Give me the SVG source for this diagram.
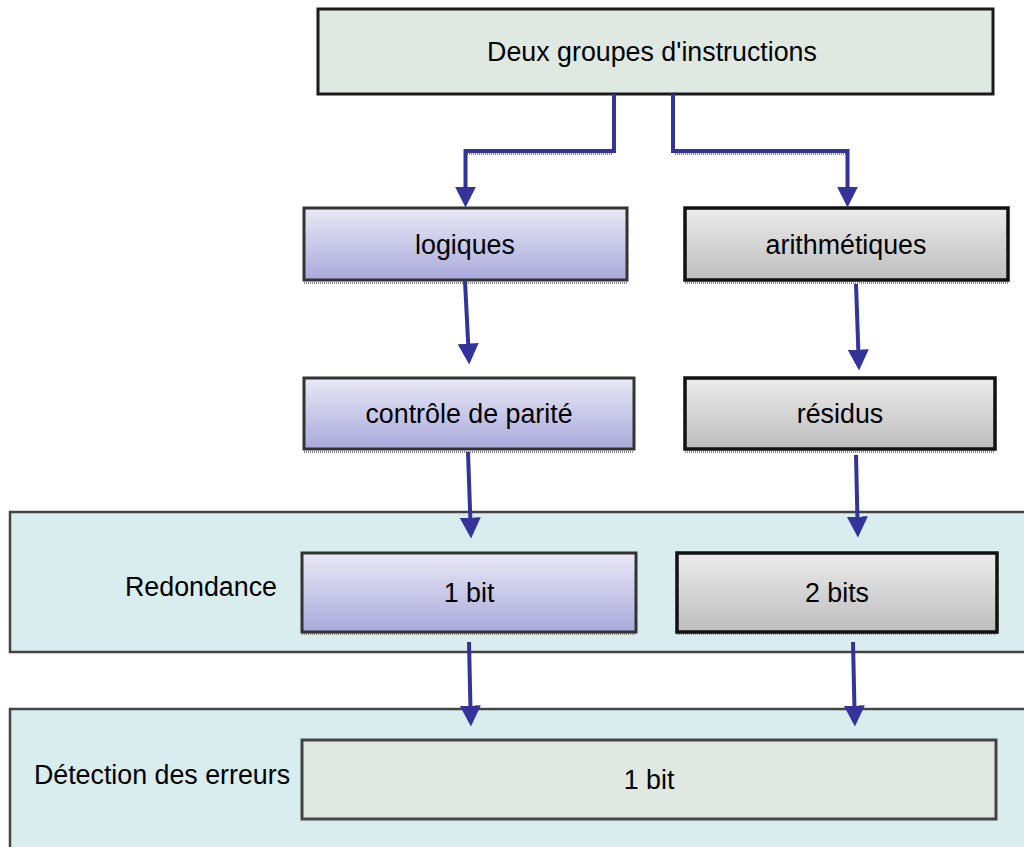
<svg xmlns="http://www.w3.org/2000/svg" width="1024" height="847" viewBox="0 0 1024 847">
  <defs>
    <linearGradient id="gPurple" x1="0" y1="0" x2="0" y2="1">
      <stop offset="0" stop-color="#e9e9f6"/>
      <stop offset="1" stop-color="#a9a9dc"/>
    </linearGradient>
    <linearGradient id="gGray" x1="0" y1="0" x2="0" y2="1">
      <stop offset="0" stop-color="#ececec"/>
      <stop offset="1" stop-color="#bdbdbd"/>
    </linearGradient>
    <marker id="arr" viewBox="0 0 20 20" refX="8" refY="10" markerWidth="21" markerHeight="21" markerUnits="userSpaceOnUse" orient="auto">
      <path d="M0,0 L20,10 L0,20 z" fill="#333399"/>
    </marker>
  </defs>
  <style>
    text { font-family: "Liberation Sans", Arial, sans-serif; font-size: 26.8px; fill: #000; }
    .c { text-anchor: middle; }
    .panel { fill: #d9ecee; stroke: #444; stroke-width: 2.5; }
    .purple { fill: url(#gPurple); stroke: #333; stroke-width: 3; }
    .gray { fill: url(#gGray); stroke: #111; stroke-width: 3.5; }
    .pale { fill: #dfe9e1; stroke: #1a1a1a; stroke-width: 3; }
    .paleb { fill: #dfe9e1; stroke: #444; stroke-width: 3; }
    .shadow { stroke: #8a8a8a; stroke-width: 2; stroke-dasharray: 1 1; fill: none; }
    .conn { stroke: #333399; stroke-width: 4; fill: none; }
  </style>

  <g id="panel-redondance">
    <rect class="panel" x="10" y="512" width="1030" height="140"/>
    <text x="201" y="596" class="c">Redondance</text>
  </g>
  <g id="panel-detection">
    <rect class="panel" x="10" y="709" width="1030" height="150"/>
    <text x="162" y="784" class="c">Détection des erreurs</text>
  </g>

  <g id="n-top">
    <rect class="pale" x="318" y="9" width="675" height="85"/>
    <text x="652" y="61" class="c">Deux groupes d'instructions</text>
  </g>

  <g id="n-logiques">
    <line class="shadow" x1="304" y1="283" x2="627" y2="283"/>
    <rect class="purple" x="304" y="208" width="323" height="72"/>
    <text x="465" y="254" class="c">logiques</text>
  </g>
  <g id="n-arith">
    <line class="shadow" x1="685" y1="283" x2="1008" y2="283"/>
    <rect class="gray" x="685" y="208" width="323" height="72"/>
    <text x="846" y="254" class="c">arithmétiques</text>
  </g>
  <g id="n-parite">
    <line class="shadow" x1="304" y1="452" x2="634" y2="452"/>
    <rect class="purple" x="304" y="378" width="330" height="71"/>
    <text x="469" y="423" class="c">contrôle de parité</text>
  </g>
  <g id="n-residus">
    <line class="shadow" x1="685" y1="452" x2="995" y2="452"/>
    <rect class="gray" x="685" y="378" width="310" height="71"/>
    <text x="840" y="423" class="c">résidus</text>
  </g>
  <g id="n-1bit">
    <line class="shadow" x1="302" y1="634" x2="636" y2="634"/>
    <rect class="purple" x="302" y="553" width="334" height="79"/>
    <text x="469" y="602" class="c">1 bit</text>
  </g>
  <g id="n-2bits">
    <line class="shadow" x1="677" y1="634" x2="997" y2="634"/>
    <rect class="gray" x="677" y="553" width="320" height="79"/>
    <text x="837" y="602" class="c">2 bits</text>
  </g>
  <g id="n-detect-1bit">
    <rect class="paleb" x="302" y="740" width="694" height="79"/>
    <text x="649" y="789" class="c">1 bit</text>
  </g>

  <g id="connectors">
    <polyline class="shadow" points="465,154 612,154"/>
    <polyline class="shadow" points="675,154 847,154"/>
    <polyline class="conn" points="614,94 614,151 465.5,151 465.5,195" marker-end="url(#arr)"/>
    <polyline class="conn" points="673,94 673,151 847.5,151 847.5,195" marker-end="url(#arr)"/>
    <line class="conn" x1="465" y1="281" x2="468.6" y2="352" marker-end="url(#arr)"/>
    <line class="conn" x1="856" y1="284" x2="858.6" y2="358" marker-end="url(#arr)"/>
    <line class="conn" x1="468" y1="452" x2="470.6" y2="526" marker-end="url(#arr)"/>
    <line class="conn" x1="856" y1="455" x2="857.6" y2="525" marker-end="url(#arr)"/>
    <line class="conn" x1="469" y1="642" x2="470.6" y2="714" marker-end="url(#arr)"/>
    <line class="conn" x1="853" y1="642" x2="854.6" y2="714" marker-end="url(#arr)"/>
  </g>
</svg>
